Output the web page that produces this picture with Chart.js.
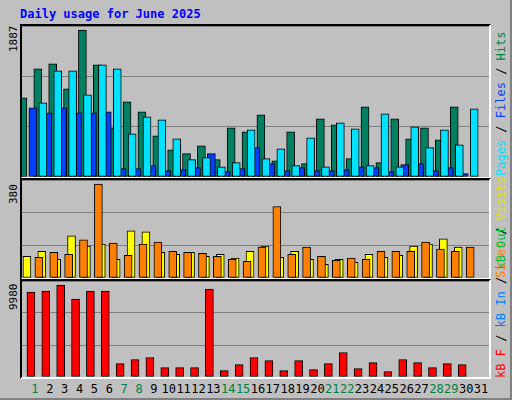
<!DOCTYPE html>
<html>
<head>
<meta charset="utf-8">
<script src="https://cdn.jsdelivr.net/npm/chart.js@4"></script>
<style>
body { margin:0; background:#fff; }
#frame { position:absolute; left:0; top:0; width:510px; height:398px; background:#c0c0c0; border-right:2px solid #808080; border-bottom:2px solid #808080; font-family:"DejaVu Sans Mono", monospace; }
.plot { position:absolute; left:20px; width:471px; border-top:2px solid #000; border-left:2px solid #000; border-right:2px solid #fff; border-bottom:2px solid #fff; box-sizing:border-box; }
.plot canvas { display:block; }
#title { position:absolute; left:20px; top:7px; color:#0000ff; font-weight:bold; font-size:12px; }
.vl { position:absolute; font-size:11px; transform-origin:0 0; transform:rotate(-90deg); white-space:nowrap; }
.vr { font-size:12px; }
.day { position:absolute; top:382px; font-size:12px; transform:translateX(-50%); }
</style>
</head>
<body>
<div id="frame">
  <div id="title">Daily usage for June 2025</div>
  <div class="plot" style="top:24px;height:155px"><canvas id="c1" width="467" height="151"></canvas></div>
  <div class="plot" style="top:178px;height:102px"><canvas id="c2" width="467" height="98"></canvas></div>
  <div class="plot" style="top:279px;height:100px"><canvas id="c3" width="467" height="96"></canvas></div>
  <div class="vl" style="left:7px;top:52px">1887</div>
  <div class="vl" style="left:7px;top:204px">380</div>
  <div class="vl" style="left:7px;top:310px">9980</div>
  <div class="vl vr" style="left:494px;top:176px"><span style="color:#00e0ff">Pages</span> / <span style="color:#0040ff">Files</span> / <span style="color:#008040">Hits</span></div>
  <div class="vl vr" style="left:494px;top:278px"><span style="color:#ff8000">Sites</span> / <span style="color:#e0e000">Visits</span></div>
  <div class="vl vr" style="left:494px;top:378px"><span style="color:#ff0000">kB F</span> / <span style="color:#0080ff">kB In</span> / <span style="color:#00c040">kB Out</span></div>
  <div id="days"></div>
</div>
<script>
const days = [1,2,3,4,5,6,7,8,9,10,11,12,13,14,15,16,17,18,19,20,21,22,23,24,25,26,27,28,29,30,31];
const weekendDays = [1,7,8,14,15,21,22,28,29];
const hits  = [1016,1387,1452,1131,1887,1439,632,965,837,529,350,299,401,222,632,581,798,209,581,171,747,670,235,901,184,747,491,632,478,901];
const files = [952,1362,1362,1054,1439,1387,555,773,734,491,222,248,132,184,606,235,363,145,504,132,696,619,145,811,132,645,376,606,414,875];
const pages = [888,824,888,824,824,837,107,107,145,81,94,120,299,68,107,376,171,81,120,81,81,94,132,120,68,158,171,81,120,43];
const visits = [88,108,75,170,129,137,75,191,187,104,96,104,88,96,80,108,129,84,108,75,55,75,63,96,84,92,129,137,158,125];
const sites  = [84,104,96,154,380,141,92,137,145,108,104,100,88,75,67,125,289,96,125,88,71,80,75,108,108,108,145,117,108,125];
const kbF = [9215,9324,9980,8450,9324,9324,1457,1894,2113,1020,1020,1020,9543,692,1348,2113,1785,692,1785,801,1457,2659,911,1566,583,1894,1566,1020,1457,1348];

function pts(arr) { return arr.map((v, i) => ({ x: days[i], y: v })); }
function xAxis(shift) {
  return { type: "linear", display: false, offset: false, grid: { offset: false },
           min: 0.4 - shift, max: 31.8 - shift };
}
function yAxis(max) {
  return {
    min: 0, max: max,
    afterBuildTicks: s => { s.ticks = [0, max / 3, 2 * max / 3, max].map(v => ({ value: v })); },
    ticks: { display: false },
    border: { display: false },
    grid: { color: "#808080", lineWidth: 1, drawTicks: false },
  };
}
function bar(data, color, axis, width, order) {
  return { data: pts(data), backgroundColor: color, borderColor: "#000", borderWidth: 1,
           borderSkipped: false, barThickness: width, xAxisID: axis, order: order };
}
const common = {
  responsive: false, animation: false,
  layout: { padding: 0 },
  plugins: { legend: { display: false }, tooltip: { enabled: false } },
};

new Chart(document.getElementById("c1"), {
  type: "bar",
  data: { datasets: [
    bar(hits, "#008060", "xh", 8, 3),
    bar(pages, "#0040ff", "xp", 8, 2),
    bar(files, "#00e0ff", "xf", 8, 1),
  ] },
  options: { ...common, scales: { xh: xAxis(0), xp: xAxis(0.133), xf: xAxis(0.267), y: yAxis(1938) } },
});

new Chart(document.getElementById("c2"), {
  type: "bar",
  data: { datasets: [
    bar(visits, "#ffff00", "xh", 8, 2),
    bar(sites, "#ff8000", "xf", 8, 1),
  ] },
  options: { ...common, scales: { xh: xAxis(0), xf: xAxis(0.267), y: yAxis(396) } },
});

const c3 = new Chart(document.getElementById("c3"), {
  type: "bar",
  data: { datasets: [ bar(kbF, "#ff0000", "xh", 8, 1) ] },
  options: { ...common, scales: { xh: xAxis(0), xf: xAxis(0.267), y: yAxis(10414) } },
});

// day labels under the bottom panel, placed via the chart's scale
const box = document.getElementById("days");
days.forEach(d => {
  const el = document.createElement("div");
  el.className = "day";
  el.textContent = d;
  el.style.left = (22 + c3.scales.xf.getPixelForValue(d)) + "px";
  el.style.color = weekendDays.includes(d) ? "#008040" : "#000";
  box.appendChild(el);
});
</script>
</body>
</html>
